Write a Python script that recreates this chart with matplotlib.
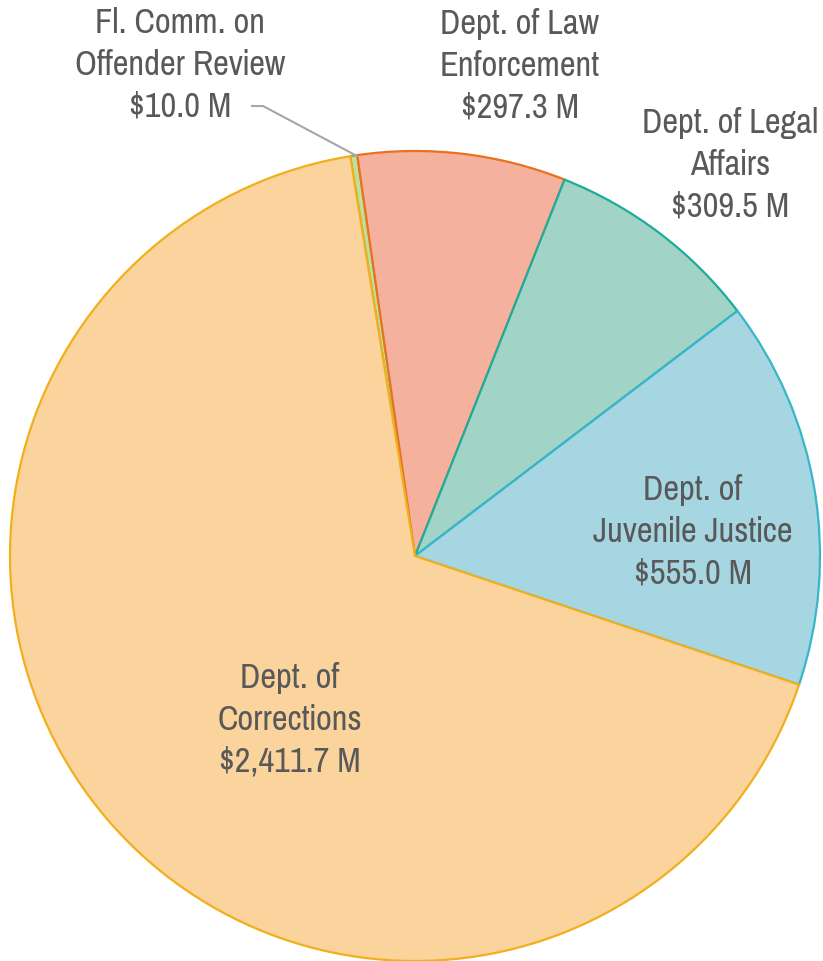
import matplotlib.pyplot as plt

# budget by department, in $ millions (clockwise from top)
depts = ['Fl. Comm. on\nOffender Review', 'Dept. of Law\nEnforcement', 'Dept. of Legal\nAffairs',
         'Dept. of\nJuvenile Justice', 'Dept. of\nCorrections']
amounts = [10.0, 297.3, 309.5, 555.0, 2411.7]
value_labels = ['$10.0 M', '$297.3 M', '$309.5 M', '$555.0 M', '$2,411.7 M']

fills = ['#c3dd9c', '#f4b29e', '#a2d3c7', '#a7d6e3', '#fbd39d']
edges = ['#86b63a', '#e9711f', '#1eab99', '#37b5c9', '#f1b01b']

plt.rcParams['font.family'] = ['Pragati Narrow', 'Roboto Condensed', 'DejaVu Sans']

W, H = 823, 961
fig = plt.figure(figsize=(W / 100, H / 100), dpi=100)
ax = fig.add_axes([0, 0, 1, 1])

cx, cy, r = 415, H - 556, 405
wedges, _ = ax.pie(amounts, colors=fills, startangle=99.2, counterclock=False,
                   center=(cx, cy), radius=r, frame=True)
for w, ec in zip(wedges, edges):
    w.set_edgecolor(ec)
    w.set_linewidth(1.6)
ax.set_xlim(0, W)
ax.set_ylim(0, H)
ax.set_aspect('equal')
ax.axis('off')

# label positions (pixel coords, top-down)
label_xy = [(180, 65), (520, 66), (730, 165), (693, 532), (290, 720)]
for name, val, (x, y) in zip(depts, value_labels, label_xy):
    ax.text(x, H - y, name + '\n' + val, ha='center', va='center', fontsize=27,
            color='#595959', linespacing=1.38)

# leader line for the small slice
ax.plot([252, 263, 357], [H - 106, H - 106, H - 156], color='#a6a6a6', lw=1.5)

fig.savefig('out.png', dpi=100)
